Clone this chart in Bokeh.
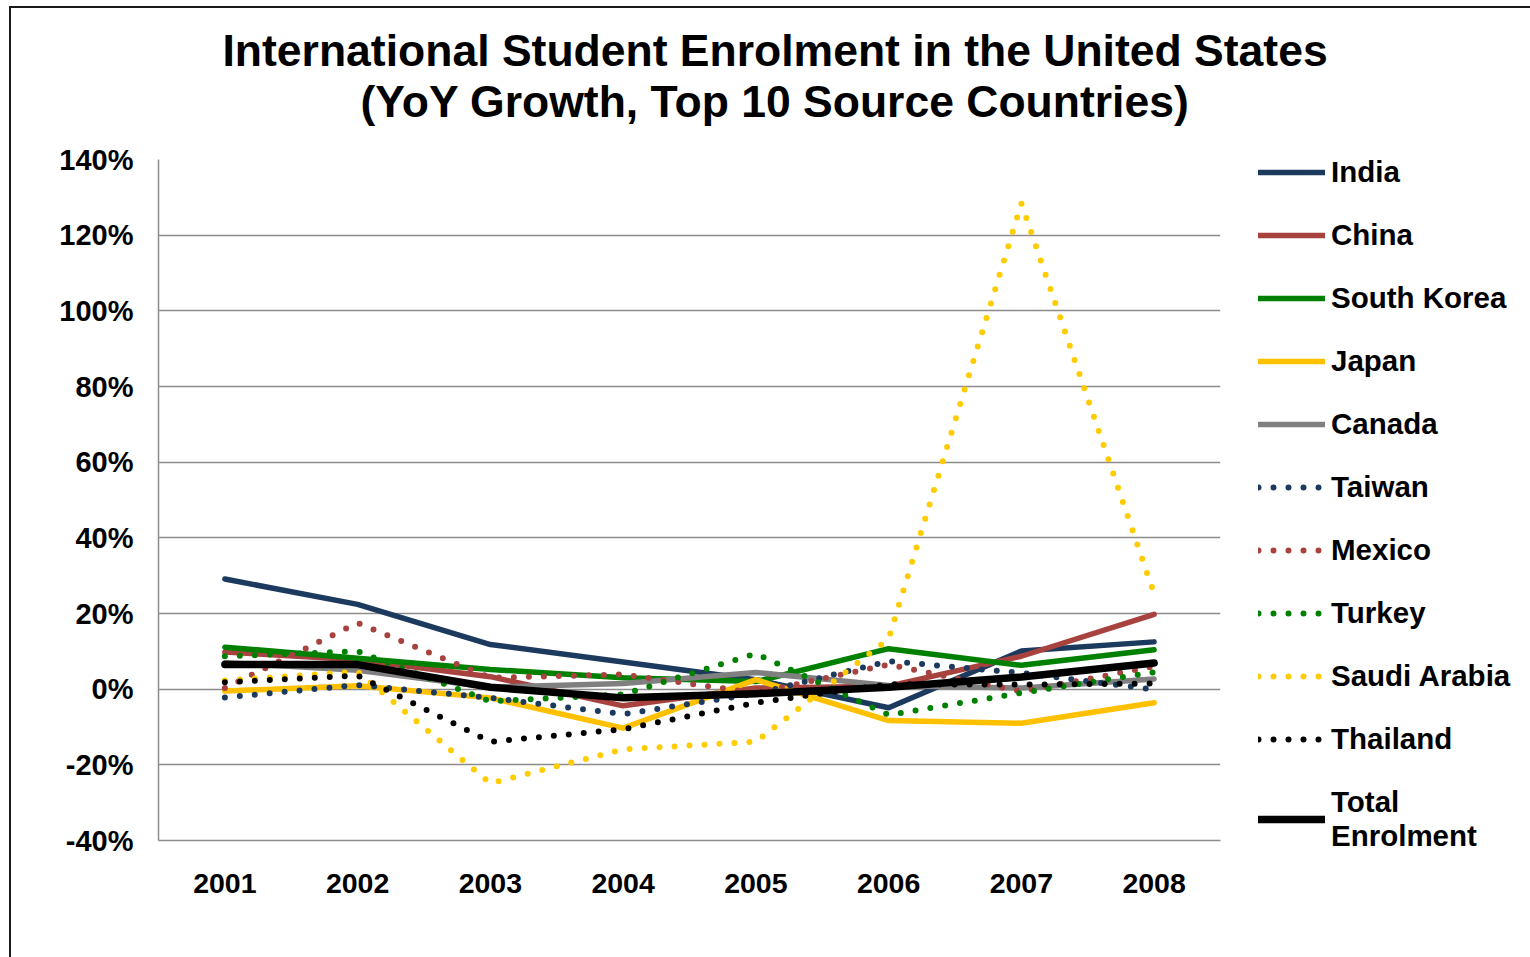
from bokeh.plotting import figure
from bokeh.models import (FactorRange, Range1d, Legend, LegendItem, Title,
                          FixedTicker)
from bokeh.embed import file_html
from bokeh.resources import INLINE

# ---------------- data (YoY growth, %) ----------------
years = ["2001", "2002", "2003", "2004", "2005", "2006", "2007", "2008"]
india = [29.1, 22.4, 11.8, 7.2, 2.5, -4.9, 10.1, 12.5]
china = [9.8, 7.8, 3.3, -4.4, 0.3, 0.8, 8.7, 19.8]
south_korea = [11.1, 8.2, 5.2, 3.0, 2.0, 10.7, 6.3, 10.4]
japan = [-0.5, 0.9, -2.3, -10.3, 2.5, -8.3, -9.0, -3.6]
canada = [7.0, 5.0, 0.5, 1.5, 4.4, 1.0, 0.3, 2.7]
taiwan = [-2.2, 1.1, -2.3, -6.6, -1.2, 7.4, 4.3, -0.1]
mexico = [0.3, 17.5, 3.0, 3.9, -1.0, 6.5, -0.6, 6.0]
turkey = [8.7, 10.0, -3.2, -1.4, 9.4, -6.8, -1.0, 4.5]
saudi_arabia = [2.3, 4.6, -24.9, -15.9, -13.9, 13.3, 128.4, 25.2]
thailand = [1.8, 3.6, -13.9, -10.6, -3.6, 1.3, 1.2, 1.5]
total = [6.5, 6.5, 0.5, -2.3, -1.2, 0.5, 3.2, 6.9]

series_names = ["India", "China", "South Korea", "Japan", "Canada", "Taiwan",
                "Mexico", "Turkey", "Saudi Arabia", "Thailand", "Total\nEnrolment"]
series_values = [india, china, south_korea, japan, canada, taiwan,
                 mexico, turkey, saudi_arabia, thailand, total]
y_ticks = [-40, -20, 0, 20, 40, 60, 80, 100, 120, 140]
title_lines = ["International Student Enrolment in the United States",
               "(YoY Growth, Top 10 Source Countries)"]

# ---------------- styles ----------------
NAVY = "#1C3A5E"
RED = "#A8423F"
GREEN = "#008000"
YELLOW = "#FFC000"
DOTYELLOW = "#FFCC00"
GRAY = "#808080"
BLACK = "#000000"
DOT = "0 15"
styles = [
    dict(line_color=NAVY, line_width=5.5),
    dict(line_color=RED, line_width=5.5),
    dict(line_color=GREEN, line_width=5.5),
    dict(line_color=YELLOW, line_width=5.5),
    dict(line_color=GRAY, line_width=5.5),
    dict(line_color=NAVY, line_width=6, line_dash=DOT),
    dict(line_color=RED, line_width=6, line_dash=DOT),
    dict(line_color=GREEN, line_width=6, line_dash=DOT),
    dict(line_color=DOTYELLOW, line_width=6, line_dash=DOT),
    dict(line_color=BLACK, line_width=6, line_dash=DOT),
    dict(line_color=BLACK, line_width=7.5),
]

FONT = "Liberation Sans"
OX, OY = 11, 8  # offset of the canvas inside the page (outer frame)

p = figure(frame_width=1062, frame_height=681,
           x_range=FactorRange(factors=years),
           y_range=Range1d(-40, 140),
           output_backend="svg", toolbar_location=None,
           min_border_left=158 - OX, min_border_right=0,
           min_border_top=159 - OY, min_border_bottom=957 - 840)
p.styles = {"margin-left": "9px", "margin-top": "6px",
            "border-left": "2px solid #1a1a1a", "border-top": "2px solid #1a1a1a"}

p.outline_line_color = None
p.background_fill_color = "white"
p.border_fill_color = "white"
p.xgrid.grid_line_color = None
p.ygrid.grid_line_color = "#8C8C8C"
p.ygrid.grid_line_width = 1.5

p.yaxis.ticker = FixedTicker(ticks=y_ticks)
p.yaxis.major_label_overrides = {t: f"{t}%" for t in y_ticks}
for ax in (p.xaxis[0], p.yaxis[0]):
    ax.axis_line_color = "#8C8C8C"
    ax.axis_line_width = 1.5
    ax.major_tick_line_color = None
    ax.minor_tick_line_color = None
    ax.major_tick_in = 0
    ax.major_tick_out = 0
    ax.major_label_text_font = FONT
    ax.major_label_text_font_style = "bold"
    ax.major_label_text_color = "black"
p.yaxis.major_label_text_font_size = "29px"
p.xaxis.major_label_text_font_size = "28.5px"
p.yaxis.major_label_standoff = 25
p.xaxis.major_label_standoff = 33

items = []
for name, vals, st in zip(series_names, series_values, styles):
    r = p.line(x=years, y=vals, line_cap="round", line_join="round", **st)
    items.append(LegendItem(label=name, renderers=[r]))

legend = Legend(items=items, location=(38, -13),
                label_text_font=FONT, label_text_font_style="bold",
                label_text_font_size="29.5px", label_text_color="black",
                glyph_width=67, glyph_height=30, label_height=30,
                label_standoff=6, spacing=29, padding=0, margin=0,
                border_line_color=None, background_fill_alpha=0)
p.add_layout(legend, "right")

# spacer between the frame and the two-line title
p.add_layout(Title(text=" ", text_font_size="1px", standoff=31), "above")
for txt, off in zip(reversed(title_lines), [202, 64]):
    p.add_layout(Title(text=txt, align="left", offset=off, standoff=0,
                       text_font=FONT, text_font_style="bold",
                       text_font_size="44.5px", text_color="black"), "above")

open("out.html", "w").write(file_html(p, INLINE))
